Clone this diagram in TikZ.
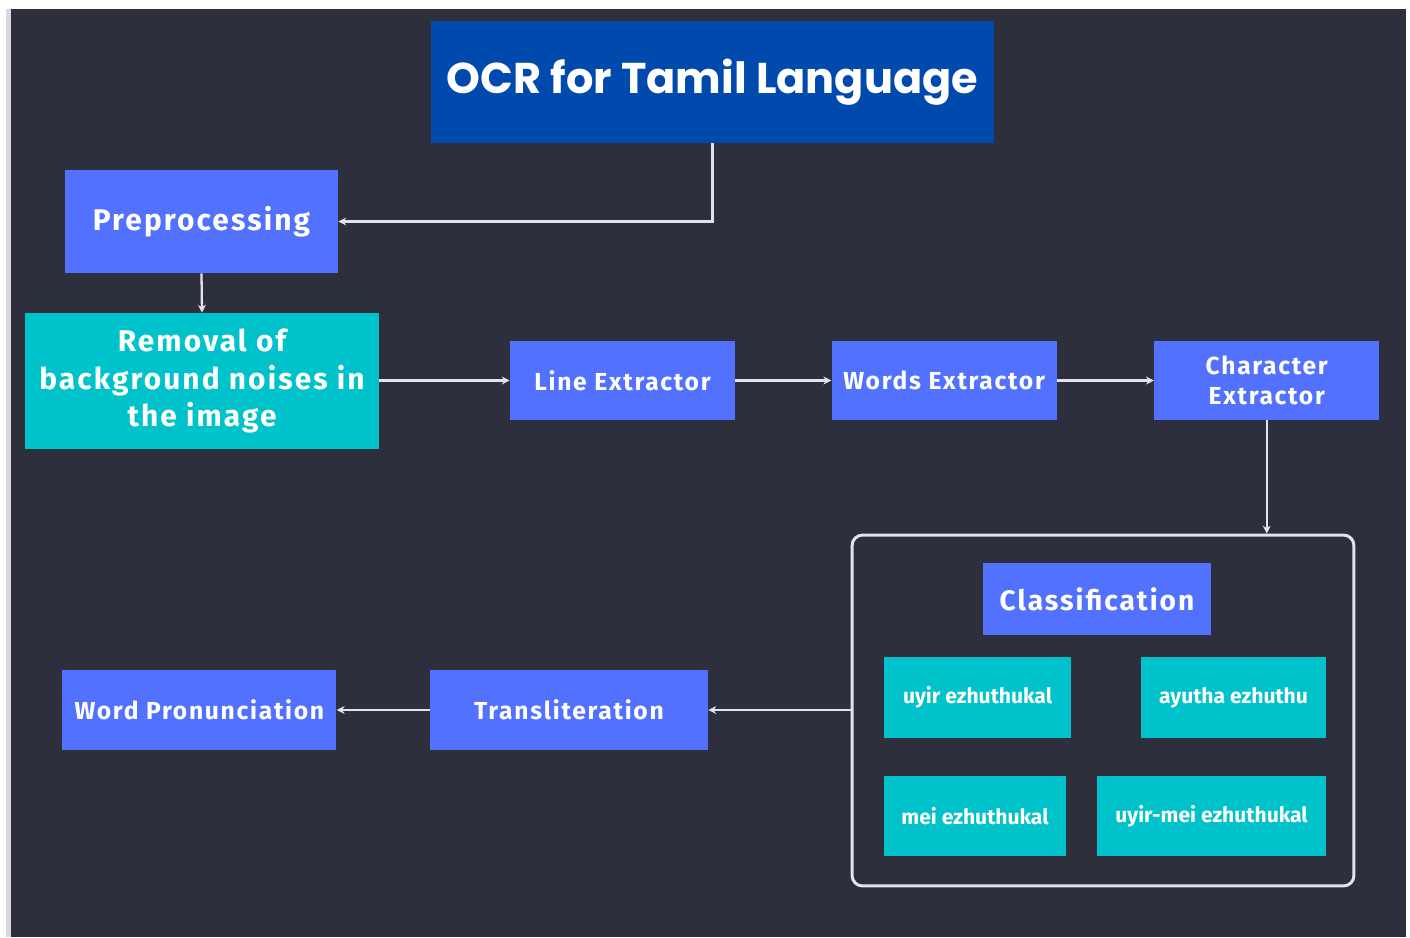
\documentclass[tikz,border=0pt]{standalone}
\usepackage{fontspec}
\setmainfont{Fira Sans}
\newfontfamily\labelfont{Fira Sans}[LetterSpace=7]
\newfontfamily\titlefont{Poppins}
\usetikzlibrary{arrows.meta, positioning}
\definecolor{bgdark}{HTML}{2D2F3D}
\definecolor{edgegrey}{HTML}{D9D9DE}
\definecolor{boxblue}{HTML}{5271FF}
\definecolor{boxteal}{HTML}{00C2CB}
\definecolor{titleblue}{HTML}{004AAD}
\definecolor{linegrey}{HTML}{E4E4E8}
\tikzset{
  titlebox/.style={rectangle,fill=titleblue,text=white,inner sep=2pt,minimum width=11.26cm,minimum height=2.44cm,font=\titlefont\bfseries\fontsize{24.5}{28}\selectfont},
  stage/.style={rectangle,fill=boxblue,text=white,align=center,inner sep=2pt,minimum width=4.5cm,minimum height=1.58cm,font=\labelfont\bfseries\fontsize{14}{17}\selectfont},
  cleanbox/.style={rectangle,fill=boxteal,text=white,align=center,inner sep=2pt,font=\labelfont\bfseries\fontsize{17}{21.5}\selectfont},
  letterbox/.style={rectangle,fill=boxteal,text=white,inner sep=2pt,minimum height=1.61cm,font=\bfseries\fontsize{12}{14}\selectfont},
  groupbox/.style={rectangle,draw=linegrey,line width=1.7pt,rounded corners=6pt,minimum width=10.04cm,minimum height=7.02cm},
  line/.style={draw=linegrey,line width=1.3pt,-{Stealth[length=4.5pt,width=4.5pt]}}
}

\begin{document}
\begin{tikzpicture}[x=0.02cm,y=-0.02cm]
\useasboundingbox (0,0) rectangle (1410,937);
\fill[white] (0,0) rectangle (1410,937);
\fill[edgegrey] (6,9) rectangle (11,937);
\fill[bgdark] (11,9) rectangle (1406,937);

\node[titlebox] (title) at (712.5,82) {OCR for Tamil Language};
\node[stage, minimum width=5.46cm, minimum height=2.06cm, font=\labelfont\bfseries\fontsize{17}{20}\selectfont] (pre) at (201.5,221.5) {Preprocessing};
\node[cleanbox, minimum width=7.08cm, minimum height=2.72cm] (noise) at (202,381) {Removal of\\background noises in\\the image};
\node[stage] (lines) at (622.5,380.5) {Line Extractor};
\node[stage, right=1.92cm of lines] (words) {Words Extractor};
\node[stage, right=1.94cm of words] (chars) {Character\\Extractor};

\node[groupbox] (group) at (1103,710.5) {};
\node[stage, minimum width=4.56cm, minimum height=1.44cm, font=\labelfont\bfseries\fontsize{16}{19}\selectfont] (classify) at (1097,599) {Classification};
\node[letterbox, minimum width=3.74cm] (uyir) at (977.5,697.5) {uyir ezhuthukal};
\node[letterbox, minimum width=3.7cm] (ayutha) at (1233.5,697.5) {ayutha ezhuthu};
\node[letterbox, minimum width=3.64cm, minimum height=1.6cm] (mei) at (975,816) {mei ezhuthukal};
\node[letterbox, minimum width=4.58cm, minimum height=1.6cm] (uyirmei) at (1211.5,816) {uyir-mei ezhuthukal};

\node[stage, minimum width=5.56cm, minimum height=1.6cm] (translit) at (569,710) {Transliteration};
\node[stage, minimum width=5.48cm, minimum height=1.6cm, left=1.86cm of translit] (speak) {Word Pronunciation};

\draw[line] (title.south) |- (pre.east);
\draw[line] (pre.south) -- (noise.north);
\draw[line] (noise.east |- lines.west) -- (lines.west);
\draw[line] (lines) -- (words);
\draw[line] (words) -- (chars);
\draw[line] (chars.south) -- (chars.south |- group.north);
\draw[line] (group.west |- translit.east) -- (translit.east);
\draw[line] (translit) -- (speak);
\end{tikzpicture}
\end{document}
